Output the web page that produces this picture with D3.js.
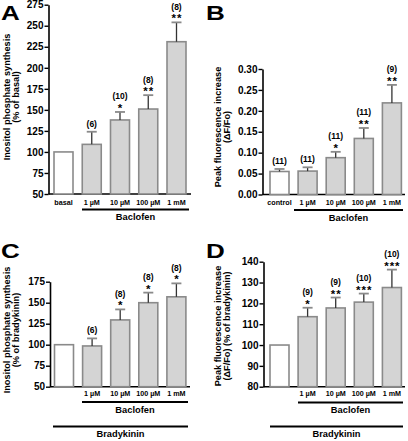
<!DOCTYPE html>
<html><head><meta charset="utf-8">
<script src="https://cdn.jsdelivr.net/npm/d3@7"></script>
<style>
html,body{margin:0;padding:0;background:#fff;}
svg{display:block;font-family:"Liberation Sans",Arial,sans-serif;font-weight:bold;}
</style></head>
<body><svg id="c" width="408" height="441"></svg>
<script>
// ---- data ----
const catsA = ["basal","1 µM","10 µM","100 µM","1 mM"];
const valsA = [100,109,138,151,231];
const semA  = [0,15,9.5,16.5,23];
const nA    = ["","(6)","(10)","(8)","(8)"];
const sigA  = ["","","*","**","**"];
const ticksA = [50,75,100,125,150,175,200,225,250,275];

const catsB = ["control","1 µM","10 µM","100 µM","1 mM"];
const valsB = [0.055,0.056,0.088,0.134,0.219];
const semB  = [0.006,0.009,0.014,0.025,0.043];
const nB    = ["(11)","(11)","(11)","(11)","(9)"];
const sigB  = ["","","*","**","**"];
const ticksB = [0,0.05,0.10,0.15,0.20,0.25,0.30];

const catsC = ["","1 µM","10 µM","100 µM","1 mM"];
const valsC = [100,98.5,129.5,150,157];
const semC  = [0,9,12.5,12,16];
const nC    = ["","(6)","(8)","(8)","(8)"];
const sigC  = ["","","*","*","*"];
const ticksC = [50,75,100,125,150,175];

const catsD = ["","1 µM","10 µM","100 µM","1 mM"];
const valsD = [100,113.6,117.8,120.6,127.6];
const semD  = [0,4.3,5,4.1,8.6];
const nD    = ["","(9)","(9)","(10)","(10)"];
const sigD  = ["","*","**","***","***"];
const ticksD = [80,90,100,110,120,130,140];

const svg = d3.select("#c");
const FONT = '"Liberation Sans",Arial,sans-serif';

function panel(o){
  const g = svg.append("g");
  const n = o.cats.length;
  const pi = 1 - o.bw/o.step, po = o.off/o.step;
  const x = d3.scaleBand().domain(d3.range(n))
      .range([o.x0, o.x0 + o.step*(n - pi + 2*po)]).paddingInner(pi).paddingOuter(po);
  const y = d3.scaleLinear().domain(o.dom).range([o.yb, o.yt]);

  // y axis
  const ax = g.append("g").attr("transform",`translate(${o.x0},0)`)
    .call(d3.axisLeft(y).tickValues(o.ticks).tickFormat(o.fmt).tickSize(4).tickSizeOuter(0));
  ax.select(".domain").attr("stroke","#000").attr("stroke-width",1.6);
  ax.selectAll(".tick line").attr("stroke","#000").attr("stroke-width",1.4);
  ax.selectAll(".tick text").attr("font-size",10).attr("font-weight","bold")
    .attr("font-family",FONT).attr("fill","#000").attr("x",-5);
  // x axis baseline
  const xa = g.append("g").attr("transform",`translate(0,${o.yb})`)
    .call(d3.axisBottom(x).tickSize(0).tickFormat(i=>o.cats[i]));
  xa.select(".domain").attr("stroke","#000").attr("stroke-width",1.6)
    .attr("d",`M${o.x0},0H${o.xend}`);
  xa.selectAll(".tick text").attr("font-size",7.2).attr("font-weight","bold")
    .attr("font-family",FONT).attr("fill","#000").attr("dy",0).attr("y",o.labY-o.yb+2.5);

  // bars
  g.selectAll("rect.bar").data(o.vals).join("rect")
    .attr("x",(d,i)=>x(i)).attr("width",x.bandwidth())
    .attr("y",d=>y(d)).attr("height",d=>y(o.dom[0])-y(d))
    .attr("fill",(d,i)=>i===0?"#fff":"#d4d4d4")
    .attr("stroke","#8a8a8a").attr("stroke-width",1.6);

  // error bars
  o.vals.forEach((v,i)=>{
    if(!o.sem[i]) return;
    const cx = x(i)+x.bandwidth()/2, top = y(v+o.sem[i]);
    g.append("line").attr("x1",cx).attr("x2",cx).attr("y1",y(v)).attr("y2",top)
      .attr("stroke","#333").attr("stroke-width",1.3);
    g.append("line").attr("x1",cx-5).attr("x2",cx+5).attr("y1",top).attr("y2",top)
      .attr("stroke","#8a8a8a").attr("stroke-width",1.8);
  });
  // annotations
  o.vals.forEach((v,i)=>{
    const cx = x(i)+x.bandwidth()/2, top = y(v+o.sem[i]);
    const hasSig = o.sig[i] !== "";
    if(hasSig){
      g.append("text").attr("x",cx+0.5).attr("y",top).attr("text-anchor","middle")
        .attr("font-size",11.5).attr("letter-spacing",1).text(o.sig[i]);
    }
    if(o.nlab[i]){
      g.append("text").attr("x",cx).attr("y",top-(hasSig?12.5:5)).attr("text-anchor","middle")
        .attr("font-size",8.5).text(o.nlab[i]);
    }
  });

  // group lines
  o.groups.forEach(gr=>{
    g.append("line").attr("x1",gr.x1).attr("x2",gr.x2).attr("y1",gr.y).attr("y2",gr.y)
      .attr("stroke","#000").attr("stroke-width",2);
    g.append("text").attr("x",(gr.x1+gr.x2)/2).attr("y",gr.y+10.5).attr("text-anchor","middle")
      .attr("font-size",9.3).text(gr.label);
  });

  // y label
  const yl = g.append("text").attr("transform",`translate(${o.ylx},${o.yly}) rotate(-90)`)
    .attr("text-anchor","middle").attr("font-size",9.2);
  o.ylab.forEach((t,k)=>yl.append("tspan").attr("x",0).attr("dy",k===0?0:9).text(t));

  // letter
  svg.append("text").attr("transform",`translate(${o.lx},${o.ly}) scale(1.3,1)`)
    .attr("font-size",20).attr("font-weight","bold").text(o.letter);
}

panel({cats:catsA, vals:valsA, sem:semA, nlab:nA, sig:sigA, ticks:ticksA, fmt:d3.format("d"),
  dom:[50,275], yb:194, yt:4.7, x0:48.5, off:5.5, step:28.25, bw:19, xend:191, labY:202,
  groups:[{x1:82,x2:189,y:209.5,label:"Baclofen"}],
  ylab:["Inositol phosphate synthesis","(% of basal)"], ylx:10, yly:97, letter:"A", lx:1, ly:20});

panel({cats:catsB, vals:valsB, sem:semB, nlab:nB, sig:sigB, ticks:ticksB, fmt:d3.format(".2f"),
  dom:[0,0.30], yb:194.5, yt:69, x0:262.5, off:7.5, step:28.1, bw:19, xend:405, labY:202.5,
  groups:[{x1:294,x2:403,y:210,label:"Baclofen"}],
  ylab:["Peak fluorescence increase","(\u0394F/Fo)"], ylx:220.5, yly:127, letter:"B", lx:206, ly:20});

panel({cats:catsC, vals:valsC, sem:semC, nlab:nC, sig:sigC, ticks:ticksC, fmt:d3.format("d"),
  dom:[50,175], yb:386.7, yt:281.7, x0:50, off:4.5, step:28.1, bw:19, xend:190, labY:393.5,
  groups:[{x1:82,x2:188,y:402,label:"Baclofen"},{x1:53,x2:188,y:426.5,label:"Bradykinin"}],
  ylab:["Inositol phosphate synthesis","(% of bradykinin)"], ylx:10, yly:330, letter:"C", lx:1, ly:258});

panel({cats:catsD, vals:valsD, sem:semD, nlab:nD, sig:sigD, ticks:ticksD, fmt:d3.format("d"),
  dom:[80,140], yb:386.7, yt:261.7, x0:263.5, off:6.5, step:28.1, bw:19, xend:405, labY:394,
  groups:[{x1:298,x2:403,y:402.5,label:"Baclofen"},{x1:270,x2:403,y:426.5,label:"Bradykinin"}],
  ylab:["Peak fluorescence increase","(\u0394F/Fo) (% of bradykinin)"], ylx:220.5, yly:326, letter:"D", lx:206, ly:258});
</script></body></html>
